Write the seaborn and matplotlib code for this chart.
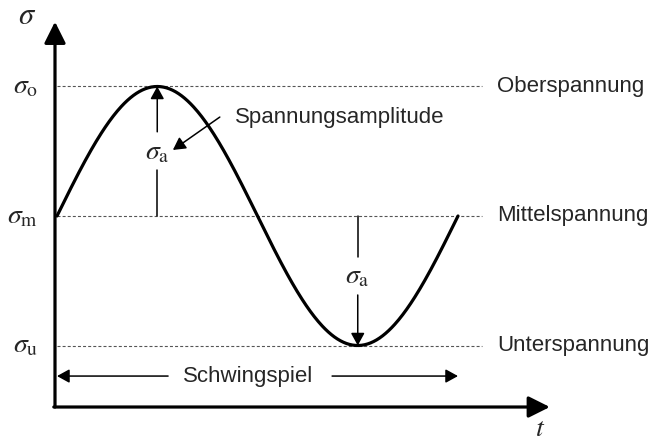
import numpy as np
import pandas as pd
import seaborn as sns
import matplotlib
matplotlib.use("Agg")
import matplotlib.pyplot as plt

# Stress levels of one load cycle (normalised: mean 0, amplitude 1)
sigma_m = 0.0
sigma_a = 1.0
sigma_o = sigma_m + sigma_a
sigma_u = sigma_m - sigma_a
period = 1.0

level_values = [sigma_o, sigma_m, sigma_u]
level_symbols = [r"$\sigma_\mathrm{o}$", r"$\sigma_\mathrm{m}$", r"$\sigma_\mathrm{u}$"]
level_names = ["Oberspannung", "Mittelspannung", "Unterspannung"]

sns.set_theme(style="white")
plt.rcParams["font.family"] = ["Liberation Sans", "DejaVu Sans"]
plt.rcParams["mathtext.fontset"] = "stix"

# sinusoidal stress over one cycle
t = np.linspace(0, period, 400)
curve = pd.DataFrame({"t": t, "sigma": sigma_m + sigma_a * np.sin(2 * np.pi * t / period)})

fig = plt.figure(figsize=(6.53, 4.45), dpi=100)
ax = fig.add_axes([0, 0, 1, 1])
ax.set_xlim(-57 / 401, (653 - 57) / 401)
ax.set_ylim((216 - 445) / 129.5, 216 / 129.5)
ax.set_axis_off()

# reference levels
for v in level_values:
    ax.plot([0, 1.06], [v, v], color="#555555", lw=0.8, dashes=(2.7, 1.9), zorder=1)

sns.lineplot(data=curve, x="t", y="sigma", color="black", lw=2.3, ax=ax, zorder=3)

# coordinate axes with arrowheads
x0, y0 = -0.005, -1.475
ax.annotate("", xy=(x0, 1.50), xytext=(x0, y0),
            arrowprops=dict(arrowstyle="-|>,head_length=1.0,head_width=0.5", mutation_scale=13,
                            lw=2.3, color="black", shrinkA=0, shrinkB=0))
ax.annotate("", xy=(1.229, y0), xytext=(x0 - 0.003, y0),
            arrowprops=dict(arrowstyle="-|>,head_length=1.0,head_width=0.5", mutation_scale=13,
                            lw=2.3, color="black", shrinkA=0, shrinkB=0))
ax.text(-0.075, 1.545, r"$\sigma$", fontsize=22, ha="center", va="center")
ax.text(1.205, -1.645, r"$t$", fontsize=20, ha="center", va="center")

# level symbols and names
for v, sym, name in zip(level_values, level_symbols, level_names):
    ax.text(-0.047, v, sym, fontsize=20, ha="right", va="center")
    ax.text(1.097, v, name, fontsize=16, ha="left", va="center")

small = dict(arrowstyle="-|>,head_length=1.0,head_width=0.55", mutation_scale=7.5,
             lw=1.1, color="black", shrinkA=0, shrinkB=0)

# amplitude near the maximum
ta1 = 0.25
ax.plot([ta1, ta1], [sigma_m, sigma_m + 0.355], color="black", lw=1.1)
ax.annotate("", xy=(ta1, sigma_o), xytext=(ta1, sigma_m + 0.65), arrowprops=small)
ax.text(ta1, sigma_m + 0.49, r"$\sigma_\mathrm{a}$", fontsize=20, ha="center", va="center")

# amplitude near the minimum
ta2 = 0.75
ax.plot([ta2, ta2], [sigma_m, sigma_m - 0.317], color="black", lw=1.1)
ax.annotate("", xy=(ta2, sigma_u), xytext=(ta2, sigma_m - 0.61), arrowprops=small)
ax.text(ta2, sigma_m - 0.47, r"$\sigma_\mathrm{a}$", fontsize=20, ha="center", va="center")

# label for the amplitude
ax.text(0.444, 0.764, "Spannungsamplitude", fontsize=16, ha="left", va="center")
ax.annotate("", xy=(0.289, 0.51), xytext=(0.406, 0.764), arrowprops=small)

# one full cycle
yc = -1.236
ax.text(0.476, yc, "Schwingspiel", fontsize=16, ha="center", va="center")
ax.annotate("", xy=(0.0, yc), xytext=(0.277, yc), arrowprops=small)
ax.annotate("", xy=(period, yc), xytext=(0.686, yc), arrowprops=small)

fig.savefig("out.png", dpi=100)
